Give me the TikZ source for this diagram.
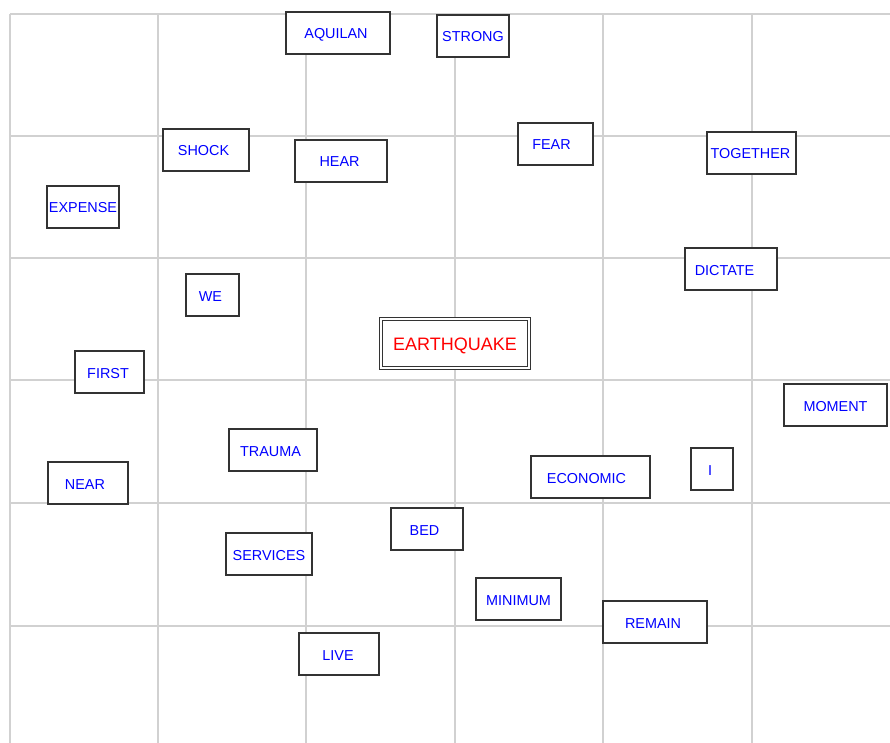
\documentclass[tikz,border=0pt]{standalone}
\usepackage{fontspec}
\setmainfont{Liberation Sans}
\usepackage{tikz}

\begin{document}
\begin{tikzpicture}[x=1pt,y=-1pt,
    word/.style={draw=black!80,line width=1.6pt,fill=white,text=blue,
      font=\fontsize{14.4}{16}\selectfont,inner sep=0pt,text height=12pt,text depth=0pt,minimum height=42pt},
    hub/.style={draw=black!80,double,line width=1.3pt,double distance=1.5pt,fill=white,text=red,
      font=\fontsize{18}{20}\selectfont,inner sep=0pt,text height=13pt,text depth=0pt,minimum width=148pt,minimum height=49pt}]
    \useasboundingbox (0,0) rectangle (890,743);
    \foreach \x in {10,158,306,455,603,752}
    {
      \draw[black!18,line width=2pt] (\x,14)--(\x,743);
    }
    \foreach \y in {14,136,258,380,503,626}
    {
      \draw[black!18,line width=2pt] (10,\y)--(890,\y);
    }
    \node[word,minimum width=104pt] (aquilan) at (338,33) {AQUILAN\kern4pt};
    \node[word,minimum width=72pt] (strong) at (473,36) {STRONG};
    \node[word,minimum width=86pt] (shock) at (206,150) {SHOCK\kern5pt};
    \node[word,minimum width=92pt] (hear) at (341,161) {HEAR\kern3pt};
    \node[word,minimum width=75pt] (fear) at (555.5,144) {FEAR\kern8pt};
    \node[word,minimum width=89pt] (together) at (751.5,153) {TOGETHER\kern2pt};
    \node[word,minimum width=72pt] (expense) at (83,207) {EXPENSE};
    \node[word,minimum width=92pt] (dictate) at (731,269) {DICTATE\kern13pt};
    \node[word,minimum width=53pt] (we) at (212.5,295) {WE\kern4pt};
    \node[hub] (earthquake) at (455,343.5) {EARTHQUAKE};
    \node[word,minimum width=69pt] (first) at (109.5,372) {FIRST\kern3pt};
    \node[word,minimum width=103pt] (moment) at (835.5,405) {MOMENT};
    \node[word,minimum width=88pt] (trauma) at (273,450) {TRAUMA\kern5pt};
    \node[word,minimum width=80pt] (near) at (88,483) {NEAR\kern6pt};
    \node[word,minimum width=119pt] (economic) at (590.5,477) {ECONOMIC\kern8pt};
    \node[word,minimum width=42pt] (i) at (712,469) {I\kern4pt};
    \node[word,minimum width=72pt] (bed) at (427,529) {BED\kern5pt};
    \node[word,minimum width=86pt] (services) at (269,554) {SERVICES};
    \node[word,minimum width=85pt] (minimum) at (518.5,599) {MINIMUM};
    \node[word,minimum width=104pt] (remain) at (655,622) {REMAIN\kern4pt};
    \node[word,minimum width=80pt] (live) at (339,654) {LIVE\kern2pt};
\end{tikzpicture}
\end{document}
